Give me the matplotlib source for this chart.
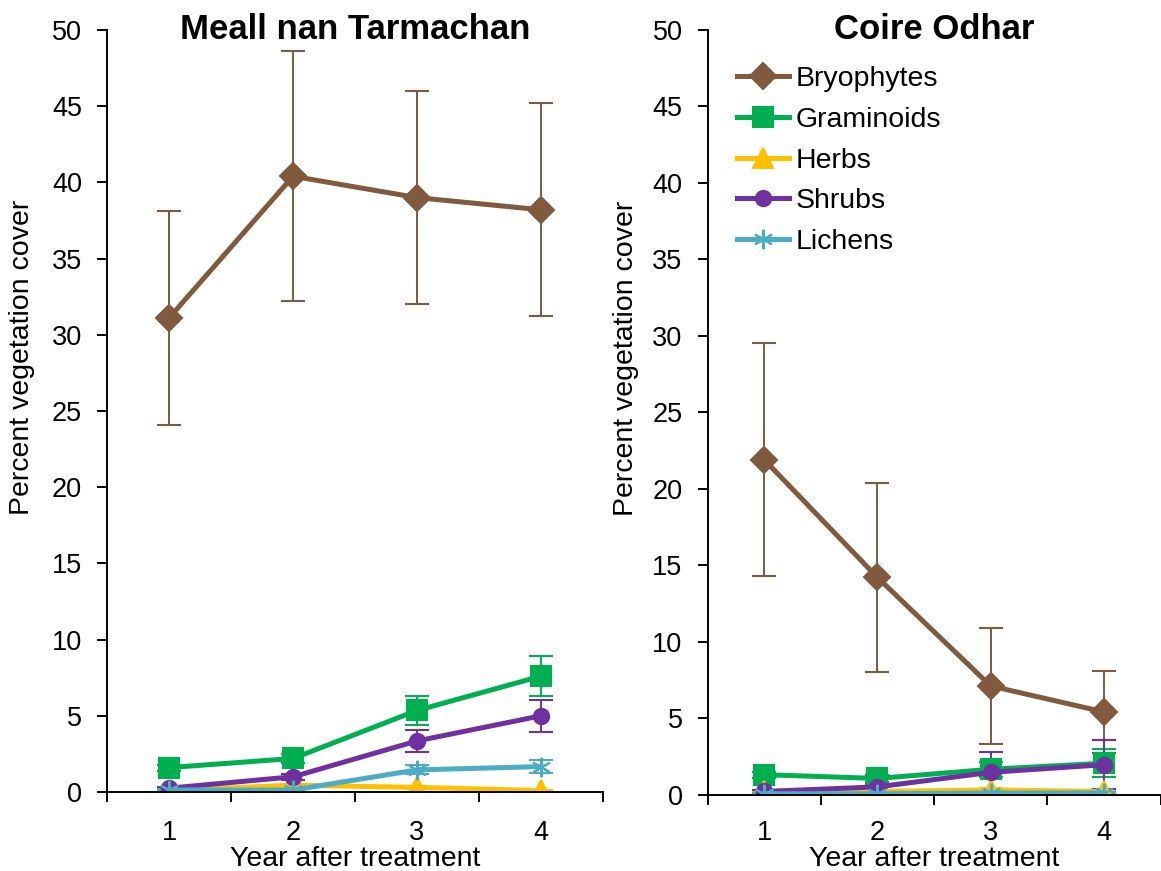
import numpy as np
import matplotlib.pyplot as plt

plt.rcParams['font.family'] = ['Liberation Sans', 'DejaVu Sans']

years = [1, 2, 3, 4]
groups = ['Bryophytes', 'Graminoids', 'Herbs', 'Shrubs', 'Lichens']

# Meall nan Tarmachan: mean cover and error
mnt_bryo = [31.1, 40.4, 39.0, 38.2]
mnt_bryo_err = [7.0, 8.2, 7.0, 7.0]
mnt_gram = [1.6, 2.2, 5.35, 7.6]
mnt_gram_err = [0.2, 0.3, 0.95, 1.3]
mnt_herb = [0.1, 0.45, 0.3, 0.1]
mnt_herb_err = [0.05, 0.1, 0.1, 0.05]
mnt_shrub = [0.25, 1.0, 3.35, 5.0]
mnt_shrub_err = [0.1, 0.2, 0.7, 1.05]
mnt_lich = [0.13, 0.13, 1.45, 1.67]
mnt_lich_err = [0.05, 0.05, 0.3, 0.45]

# Coire Odhar
co_bryo = [21.9, 14.2, 7.1, 5.4]
co_bryo_err = [7.6, 6.2, 3.8, 2.7]
co_gram = [1.3, 1.05, 1.65, 2.05]
co_gram_err = [0.2, 0.2, 0.5, 0.9]
co_herb = [0.2, 0.2, 0.3, 0.2]
co_herb_err = [0.05, 0.05, 0.1, 0.1]
co_shrub = [0.2, 0.5, 1.45, 1.95]
co_shrub_err = [0.1, 0.2, 1.3, 1.6]
co_lich = [0.05, 0.05, 0.1, 0.1]
co_lich_err = [0.02, 0.02, 0.05, 0.05]

colors = ['#7F5A3C', '#00B050', '#FFC000', '#7030A0', '#4BACC6']
markers = ['D', 's', '^', 'o', (6, 2, 0)]
msizes = [13, 14, 14, 11, 14]

sites = [
    ('Meall nan Tarmachan',
     [(mnt_bryo, mnt_bryo_err), (mnt_gram, mnt_gram_err), (mnt_herb, mnt_herb_err),
      (mnt_shrub, mnt_shrub_err), (mnt_lich, mnt_lich_err)]),
    ('Coire Odhar',
     [(co_bryo, co_bryo_err), (co_gram, co_gram_err), (co_herb, co_herb_err),
      (co_shrub, co_shrub_err), (co_lich, co_lich_err)]),
]

fig = plt.figure(figsize=(11.61, 8.71), dpi=100)
ax1 = fig.add_axes([0.0922, 0.0907, 0.4272, 0.8749])
ax2 = fig.add_axes([0.6094, 0.0878, 0.3902, 0.8778])
ylab_x = [-0.145, -0.152]
xpad = [20, 18]

handles = []
for k, (ax, (title, series)) in enumerate(zip([ax1, ax2], sites)):
    handles = []
    for i, (vals, err) in enumerate(series):
        c = ax.errorbar(years, vals, yerr=err, color=colors[i], lw=3.6,
                        marker=markers[i], ms=msizes[i], mew=1.5,
                        ecolor=colors[i], elinewidth=1.4, capsize=8.5, capthick=1.4,
                        label=groups[i])
        handles.append(c[0])
    ax.set_xlim(0.5, 4.5)
    ax.set_ylim(0, 50)
    ax.set_yticks(np.arange(0, 51, 5))
    ax.set_xticks(years)
    ax.set_xticks([0.5, 1.5, 2.5, 3.5, 4.5], minor=True)
    ax.tick_params(axis='x', which='major', length=0, labelsize=19.5, pad=xpad[k])
    ax.tick_params(axis='x', which='minor', length=7, width=1.4, direction='out')
    ax.tick_params(axis='y', length=7, width=1.4, direction='out', labelsize=19.5, pad=11)
    for s in ['top', 'right']:
        ax.spines[s].set_visible(False)
    for s in ['left', 'bottom']:
        ax.spines[s].set_linewidth(1.4)
    ax.set_ylabel('Percent vegetation cover', fontsize=20.5)
    ax.yaxis.set_label_coords(ylab_x[k], 0.571)
    ax.set_xlabel('Year after treatment', fontsize=20.5, labelpad=0)
    ax.set_title(title, fontsize=25, fontweight='bold', y=0.988, pad=0)

ax2.legend(handles=handles, labels=groups, loc='upper left',
           bbox_to_anchor=(0.066, 0.953), frameon=False, borderpad=0,
           borderaxespad=0, fontsize=20.5, handlelength=1.8,
           handletextpad=0.25, labelspacing=0.52)

fig.savefig('out.png', dpi=100)
